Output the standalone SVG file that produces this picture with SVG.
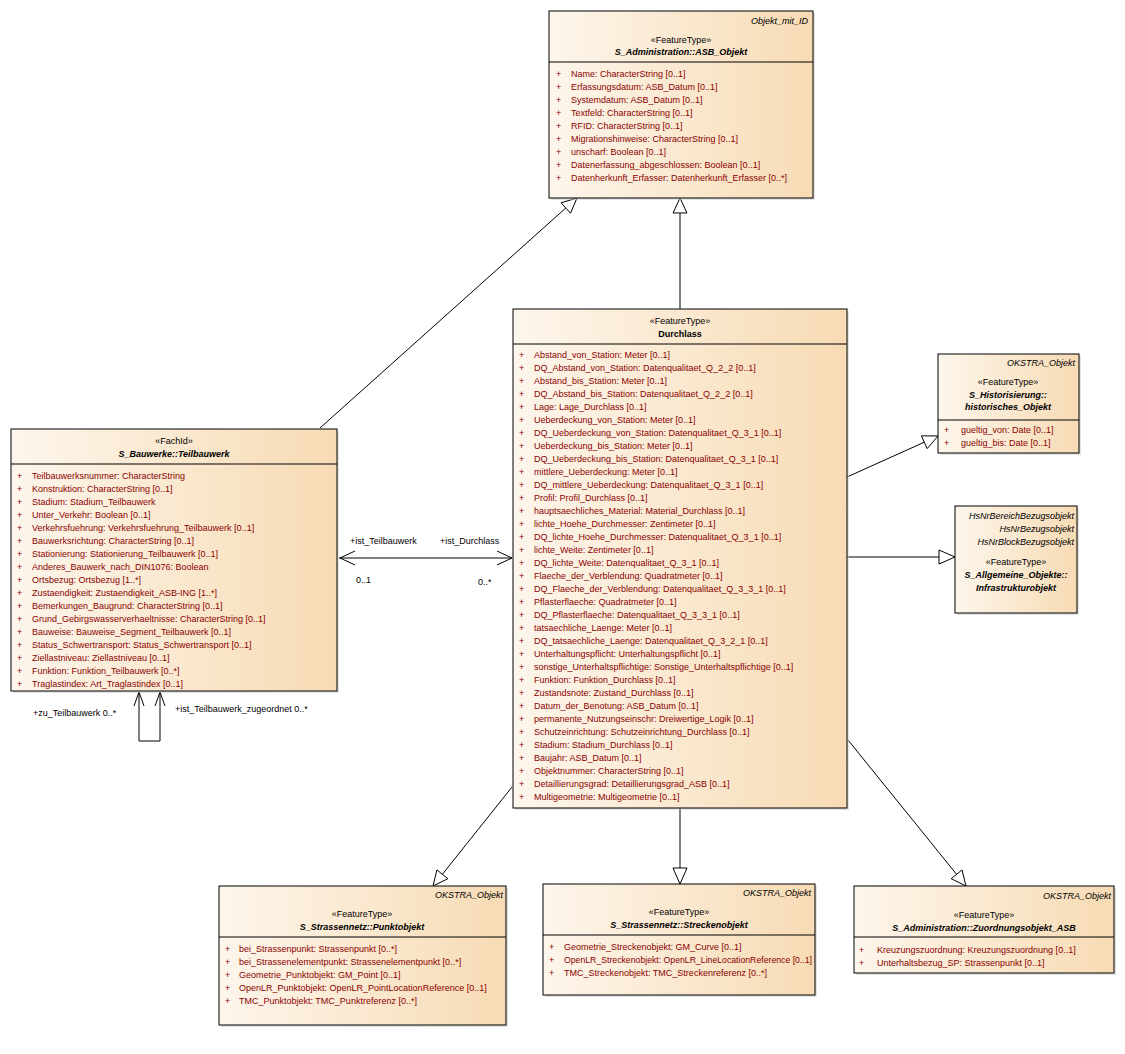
<svg xmlns="http://www.w3.org/2000/svg" width="1125" height="1054" viewBox="0 0 1125 1054">
<defs>
<linearGradient id="g" x1="0" y1="0" x2="1" y2="0">
<stop offset="0" stop-color="#fdf6ec"/>
<stop offset="1" stop-color="#f7dbb4"/>
</linearGradient>
<style>
text{font-family:"Liberation Sans",Arial,sans-serif;font-size:9px;fill:#000}
.box{fill:url(#g);stroke:#000;stroke-width:1}
.sh{fill:#c8c8c8;opacity:.5}
.div{stroke:#000;stroke-width:1}
.a{fill:#8b0000}
.c{text-anchor:middle}
.n{text-anchor:middle;font-weight:bold;font-style:italic}
.nb{text-anchor:middle;font-weight:bold}
.t{text-anchor:end;font-style:italic}
.ln{fill:none;stroke:#000;stroke-width:1}
.tri{fill:#fff;stroke:#000;stroke-width:1}
</style>
</defs>
<rect width="1125" height="1054" fill="#fff"/>

<g id="connectors">
<!-- Teilbauwerk -> ASB_Objekt -->
<line class="ln" x1="320" y1="428" x2="565.8" y2="208"/>
<polygon class="tri" points="577,198 570.5,213.2 561.1,202.8"/>
<!-- Durchlass -> ASB_Objekt -->
<line class="ln" x1="680" y1="309" x2="680" y2="213"/>
<polygon class="tri" points="680,198 687,213 673,213"/>
<!-- Durchlass -> historisches_Objekt -->
<line class="ln" x1="847" y1="477" x2="924.3" y2="442.2"/>
<polygon class="tri" points="938,436 927.2,448.6 921.4,435.8"/>
<!-- Durchlass -> Infrastrukturobjekt -->
<line class="ln" x1="847" y1="557" x2="939" y2="557"/>
<polygon class="tri" points="955,557 939,550 939,564"/>
<!-- Durchlass -> Punktobjekt -->
<line class="ln" x1="512" y1="787" x2="442.4" y2="874.3"/>
<polygon class="tri" points="433,886 447.9,878.7 436.9,869.9"/>
<!-- Durchlass -> Streckenobjekt -->
<line class="ln" x1="680" y1="808" x2="680" y2="868"/>
<polygon class="tri" points="680,884 673,868 687,868"/>
<!-- Durchlass -> Zuordnungsobjekt -->
<line class="ln" x1="848" y1="740" x2="956.6" y2="874.3"/>
<polygon class="tri" points="966,886 951.2,878.7 962,869.9"/>
<!-- Association Teilbauwerk - Durchlass -->
<line class="ln" x1="339" y1="558" x2="512" y2="558"/>
<polyline class="ln" points="355,551 340,558 355,565"/>
<polyline class="ln" points="497,551 512,558 497,565"/>
<text x="350" y="544">+ist_Teilbauwerk</text>
<text x="440" y="544">+ist_Durchlass</text>
<text x="356" y="583">0..1</text>
<text x="478" y="585">0..*</text>
<!-- Self association -->
<polyline class="ln" points="139,692 139,741 160,741 160,692"/>
<polyline class="ln" points="134,706 139,692 144,706"/>
<polyline class="ln" points="155,706 160,692 165,706"/>
<text x="33" y="716">+zu_Teilbauwerk 0..*</text>
<text x="175" y="712">+ist_Teilbauwerk_zugeordnet 0..*</text>
</g>

<g id="ASB_Objekt">
<rect class="sh" x="551" y="13" width="264" height="187"/>
<rect class="box" x="549" y="11" width="264" height="187"/>
<text class="t" x="808" y="24">Objekt_mit_ID</text>
<text class="c" x="681" y="43">«FeatureType»</text>
<text class="n" x="681" y="55">S_Administration::ASB_Objekt</text>
<line class="div" x1="549" y1="62" x2="813" y2="62"/>
<text class="a" x="556" y="77">+</text><text class="a" x="571" y="77">Name: CharacterString [0..1]</text>
<text class="a" x="556" y="90">+</text><text class="a" x="571" y="90">Erfassungsdatum: ASB_Datum [0..1]</text>
<text class="a" x="556" y="103">+</text><text class="a" x="571" y="103">Systemdatum: ASB_Datum [0..1]</text>
<text class="a" x="556" y="116">+</text><text class="a" x="571" y="116">Textfeld: CharacterString [0..1]</text>
<text class="a" x="556" y="129">+</text><text class="a" x="571" y="129">RFID: CharacterString [0..1]</text>
<text class="a" x="556" y="142">+</text><text class="a" x="571" y="142">Migrationshinweise: CharacterString [0..1]</text>
<text class="a" x="556" y="155">+</text><text class="a" x="571" y="155">unscharf: Boolean [0..1]</text>
<text class="a" x="556" y="168">+</text><text class="a" x="571" y="168">Datenerfassung_abgeschlossen: Boolean [0..1]</text>
<text class="a" x="556" y="181">+</text><text class="a" x="571" y="181">Datenherkunft_Erfasser: Datenherkunft_Erfasser [0..*]</text>
</g>

<g id="Durchlass">
<rect class="sh" x="515" y="311" width="334" height="499"/>
<rect class="box" x="513" y="309" width="334" height="499"/>
<text class="c" x="680" y="324">«FeatureType»</text>
<text class="nb" x="680" y="337">Durchlass</text>
<line class="div" x1="513" y1="344" x2="847" y2="344"/>
<text class="a" x="519" y="358">+</text><text class="a" x="534" y="358">Abstand_von_Station: Meter [0..1]</text>
<text class="a" x="519" y="371">+</text><text class="a" x="534" y="371">DQ_Abstand_von_Station: Datenqualitaet_Q_2_2 [0..1]</text>
<text class="a" x="519" y="384">+</text><text class="a" x="534" y="384">Abstand_bis_Station: Meter [0..1]</text>
<text class="a" x="519" y="397">+</text><text class="a" x="534" y="397">DQ_Abstand_bis_Station: Datenqualitaet_Q_2_2 [0..1]</text>
<text class="a" x="519" y="410">+</text><text class="a" x="534" y="410">Lage: Lage_Durchlass [0..1]</text>
<text class="a" x="519" y="423">+</text><text class="a" x="534" y="423">Ueberdeckung_von_Station: Meter [0..1]</text>
<text class="a" x="519" y="436">+</text><text class="a" x="534" y="436">DQ_Ueberdeckung_von_Station: Datenqualitaet_Q_3_1 [0..1]</text>
<text class="a" x="519" y="449">+</text><text class="a" x="534" y="449">Ueberdeckung_bis_Station: Meter [0..1]</text>
<text class="a" x="519" y="462">+</text><text class="a" x="534" y="462">DQ_Ueberdeckung_bis_Station: Datenqualitaet_Q_3_1 [0..1]</text>
<text class="a" x="519" y="475">+</text><text class="a" x="534" y="475">mittlere_Ueberdeckung: Meter [0..1]</text>
<text class="a" x="519" y="488">+</text><text class="a" x="534" y="488">DQ_mittlere_Ueberdeckung: Datenqualitaet_Q_3_1 [0..1]</text>
<text class="a" x="519" y="501">+</text><text class="a" x="534" y="501">Profil: Profil_Durchlass [0..1]</text>
<text class="a" x="519" y="514">+</text><text class="a" x="534" y="514">hauptsaechliches_Material: Material_Durchlass [0..1]</text>
<text class="a" x="519" y="527">+</text><text class="a" x="534" y="527">lichte_Hoehe_Durchmesser: Zentimeter [0..1]</text>
<text class="a" x="519" y="540">+</text><text class="a" x="534" y="540">DQ_lichte_Hoehe_Durchmesser: Datenqualitaet_Q_3_1 [0..1]</text>
<text class="a" x="519" y="553">+</text><text class="a" x="534" y="553">lichte_Weite: Zentimeter [0..1]</text>
<text class="a" x="519" y="566">+</text><text class="a" x="534" y="566">DQ_lichte_Weite: Datenqualitaet_Q_3_1 [0..1]</text>
<text class="a" x="519" y="579">+</text><text class="a" x="534" y="579">Flaeche_der_Verblendung: Quadratmeter [0..1]</text>
<text class="a" x="519" y="592">+</text><text class="a" x="534" y="592">DQ_Flaeche_der_Verblendung: Datenqualitaet_Q_3_3_1 [0..1]</text>
<text class="a" x="519" y="605">+</text><text class="a" x="534" y="605">Pflasterflaeche: Quadratmeter [0..1]</text>
<text class="a" x="519" y="618">+</text><text class="a" x="534" y="618">DQ_Pflasterflaeche: Datenqualitaet_Q_3_3_1 [0..1]</text>
<text class="a" x="519" y="631">+</text><text class="a" x="534" y="631">tatsaechliche_Laenge: Meter [0..1]</text>
<text class="a" x="519" y="644">+</text><text class="a" x="534" y="644">DQ_tatsaechliche_Laenge: Datenqualitaet_Q_3_2_1 [0..1]</text>
<text class="a" x="519" y="657">+</text><text class="a" x="534" y="657">Unterhaltungspflicht: Unterhaltungspflicht [0..1]</text>
<text class="a" x="519" y="670">+</text><text class="a" x="534" y="670">sonstige_Unterhaltspflichtige: Sonstige_Unterhaltspflichtige [0..1]</text>
<text class="a" x="519" y="683">+</text><text class="a" x="534" y="683">Funktion: Funktion_Durchlass [0..1]</text>
<text class="a" x="519" y="696">+</text><text class="a" x="534" y="696">Zustandsnote: Zustand_Durchlass [0..1]</text>
<text class="a" x="519" y="709">+</text><text class="a" x="534" y="709">Datum_der_Benotung: ASB_Datum [0..1]</text>
<text class="a" x="519" y="722">+</text><text class="a" x="534" y="722">permanente_Nutzungseinschr: Dreiwertige_Logik [0..1]</text>
<text class="a" x="519" y="735">+</text><text class="a" x="534" y="735">Schutzeinrichtung: Schutzeinrichtung_Durchlass [0..1]</text>
<text class="a" x="519" y="748">+</text><text class="a" x="534" y="748">Stadium: Stadium_Durchlass [0..1]</text>
<text class="a" x="519" y="761">+</text><text class="a" x="534" y="761">Baujahr: ASB_Datum [0..1]</text>
<text class="a" x="519" y="774">+</text><text class="a" x="534" y="774">Objektnummer: CharacterString [0..1]</text>
<text class="a" x="519" y="787">+</text><text class="a" x="534" y="787">Detaillierungsgrad: Detaillierungsgrad_ASB [0..1]</text>
<text class="a" x="519" y="800">+</text><text class="a" x="534" y="800">Multigeometrie: Multigeometrie [0..1]</text>
</g>

<g id="Teilbauwerk">
<rect class="sh" x="13" y="431" width="326" height="262"/>
<rect class="box" x="11" y="429" width="326" height="262"/>
<text class="c" x="174" y="444">«FachId»</text>
<text class="n" x="174" y="457">S_Bauwerke::Teilbauwerk</text>
<line class="div" x1="11" y1="464" x2="337" y2="464"/>
<text class="a" x="17" y="479">+</text><text class="a" x="32" y="479">Teilbauwerksnummer: CharacterString</text>
<text class="a" x="17" y="492">+</text><text class="a" x="32" y="492">Konstruktion: CharacterString [0..1]</text>
<text class="a" x="17" y="505">+</text><text class="a" x="32" y="505">Stadium: Stadium_Teilbauwerk</text>
<text class="a" x="17" y="518">+</text><text class="a" x="32" y="518">Unter_Verkehr: Boolean [0..1]</text>
<text class="a" x="17" y="531">+</text><text class="a" x="32" y="531">Verkehrsfuehrung: Verkehrsfuehrung_Teilbauwerk [0..1]</text>
<text class="a" x="17" y="544">+</text><text class="a" x="32" y="544">Bauwerksrichtung: CharacterString [0..1]</text>
<text class="a" x="17" y="557">+</text><text class="a" x="32" y="557">Stationierung: Stationierung_Teilbauwerk [0..1]</text>
<text class="a" x="17" y="570">+</text><text class="a" x="32" y="570">Anderes_Bauwerk_nach_DIN1076: Boolean</text>
<text class="a" x="17" y="583">+</text><text class="a" x="32" y="583">Ortsbezug: Ortsbezug [1..*]</text>
<text class="a" x="17" y="596">+</text><text class="a" x="32" y="596">Zustaendigkeit: Zustaendigkeit_ASB-ING [1..*]</text>
<text class="a" x="17" y="609">+</text><text class="a" x="32" y="609">Bemerkungen_Baugrund: CharacterString [0..1]</text>
<text class="a" x="17" y="622">+</text><text class="a" x="32" y="622">Grund_Gebirgswasserverhaeltnisse: CharacterString [0..1]</text>
<text class="a" x="17" y="635">+</text><text class="a" x="32" y="635">Bauweise: Bauweise_Segment_Teilbauwerk [0..1]</text>
<text class="a" x="17" y="648">+</text><text class="a" x="32" y="648">Status_Schwertransport: Status_Schwertransport [0..1]</text>
<text class="a" x="17" y="661">+</text><text class="a" x="32" y="661">Ziellastniveau: Ziellastniveau [0..1]</text>
<text class="a" x="17" y="674">+</text><text class="a" x="32" y="674">Funktion: Funktion_Teilbauwerk [0..*]</text>
<text class="a" x="17" y="687">+</text><text class="a" x="32" y="687">Traglastindex: Art_Traglastindex [0..1]</text>
</g>

<g id="historisches_Objekt">
<rect class="sh" x="940" y="356" width="141" height="99"/>
<rect class="box" x="938" y="354" width="141" height="99"/>
<text class="t" x="1075" y="366">OKSTRA_Objekt</text>
<text class="c" x="1008" y="385">«FeatureType»</text>
<text class="n" x="1008" y="398">S_Historisierung::</text>
<text class="n" x="1008" y="410">historisches_Objekt</text>
<line class="div" x1="938" y1="420" x2="1079" y2="420"/>
<text class="a" x="944" y="433">+</text><text class="a" x="961" y="433">gueltig_von: Date [0..1]</text>
<text class="a" x="944" y="446">+</text><text class="a" x="961" y="446">gueltig_bis: Date [0..1]</text>
</g>

<g id="Infrastrukturobjekt">
<rect class="sh" x="957" y="508" width="122" height="107"/>
<rect class="box" x="955" y="506" width="122" height="107"/>
<text class="t" x="1074" y="519">HsNrBereichBezugsobjekt</text>
<text class="t" x="1074" y="532">HsNrBezugsobjekt</text>
<text class="t" x="1074" y="545">HsNrBlockBezugsobjekt</text>
<text class="c" x="1016" y="565">«FeatureType»</text>
<text class="n" x="1016" y="578">S_Allgemeine_Objekte::</text>
<text class="n" x="1016" y="591">Infrastrukturobjekt</text>
</g>

<g id="Punktobjekt">
<rect class="sh" x="221" y="888" width="287" height="139"/>
<rect class="box" x="219" y="886" width="287" height="139"/>
<text class="t" x="503" y="898">OKSTRA_Objekt</text>
<text class="c" x="362" y="917">«FeatureType»</text>
<text class="n" x="362" y="930">S_Strassennetz::Punktobjekt</text>
<line class="div" x1="219" y1="937" x2="506" y2="937"/>
<text class="a" x="225" y="952">+</text><text class="a" x="239" y="952">bei_Strassenpunkt: Strassenpunkt [0..*]</text>
<text class="a" x="225" y="965">+</text><text class="a" x="239" y="965">bei_Strassenelementpunkt: Strassenelementpunkt [0..*]</text>
<text class="a" x="225" y="978">+</text><text class="a" x="239" y="978">Geometrie_Punktobjekt: GM_Point [0..1]</text>
<text class="a" x="225" y="991">+</text><text class="a" x="239" y="991">OpenLR_Punktobjekt: OpenLR_PointLocationReference [0..1]</text>
<text class="a" x="225" y="1004">+</text><text class="a" x="239" y="1004">TMC_Punktobjekt: TMC_Punktreferenz [0..*]</text>
</g>

<g id="Streckenobjekt">
<rect class="sh" x="545" y="886" width="272" height="111"/>
<rect class="box" x="543" y="884" width="272" height="111"/>
<text class="t" x="811" y="896">OKSTRA_Objekt</text>
<text class="c" x="679" y="915">«FeatureType»</text>
<text class="n" x="679" y="928">S_Strassennetz::Streckenobjekt</text>
<line class="div" x1="543" y1="935" x2="815" y2="935"/>
<text class="a" x="549" y="950">+</text><text class="a" x="564" y="950">Geometrie_Streckenobjekt: GM_Curve [0..1]</text>
<text class="a" x="549" y="963">+</text><text class="a" x="564" y="963" textLength="248" lengthAdjust="spacingAndGlyphs">OpenLR_Streckenobjekt: OpenLR_LineLocationReference [0..1]</text>
<text class="a" x="549" y="976">+</text><text class="a" x="564" y="976">TMC_Streckenobjekt: TMC_Streckenreferenz [0..*]</text>
</g>

<g id="Zuordnungsobjekt_ASB">
<rect class="sh" x="856" y="888" width="260" height="87"/>
<rect class="box" x="854" y="886" width="260" height="87"/>
<text class="t" x="1111" y="899">OKSTRA_Objekt</text>
<text class="c" x="984" y="918">«FeatureType»</text>
<text class="n" x="984" y="931">S_Administration::Zuordnungsobjekt_ASB</text>
<line class="div" x1="854" y1="937" x2="1114" y2="937"/>
<text class="a" x="859" y="953">+</text><text class="a" x="877" y="953">Kreuzungszuordnung: Kreuzungszuordnung [0..1]</text>
<text class="a" x="859" y="966">+</text><text class="a" x="877" y="966">Unterhaltsbezug_SP: Strassenpunkt [0..1]</text>
</g>
</svg>
